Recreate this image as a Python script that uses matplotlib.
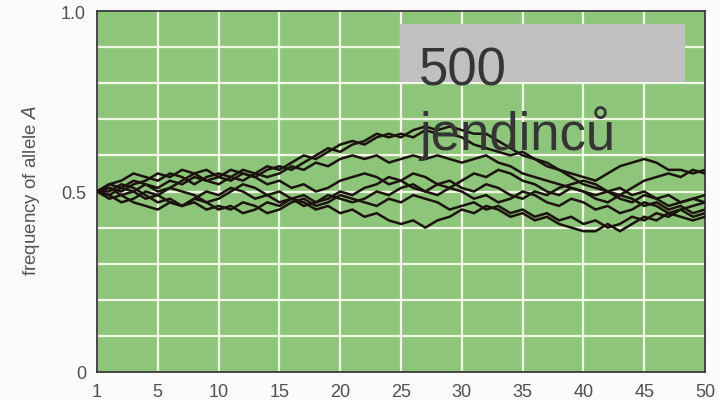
import numpy as np
import matplotlib
matplotlib.use("Agg")
import matplotlib.pyplot as plt
from matplotlib.patches import Rectangle

# Generations (tick at 0 is labelled "1")
generation = np.arange(0, 51)
xtick_pos = [0, 5, 10, 15, 20, 25, 30, 35, 40, 45, 50]
xtick_labels = ["1", "5", "10", "15", "20", "25", "30", "35", "40", "45", "50"]
ytick_pos = [0, 0.5, 1.0]
ytick_labels = ["0", "0.5", "1.0"]

# Frequency of allele A in eight populations of 500 individuals
pop1 = [0.50, 0.52, 0.53, 0.55, 0.54, 0.53, 0.55, 0.54, 0.52, 0.54, 0.55,
        0.54, 0.56, 0.55, 0.57, 0.56, 0.58, 0.60, 0.59, 0.61, 0.63,
        0.64, 0.63, 0.65, 0.66, 0.65, 0.67, 0.68, 0.67, 0.68, 0.67,
        0.66, 0.66, 0.64, 0.62, 0.60, 0.59, 0.57, 0.56, 0.55, 0.54,
        0.53, 0.55, 0.57, 0.58, 0.59, 0.58, 0.56, 0.56, 0.55, 0.56]
pop2 = [0.50, 0.51, 0.50, 0.52, 0.53, 0.55, 0.54, 0.56, 0.55, 0.53, 0.54,
        0.56, 0.55, 0.54, 0.56, 0.57, 0.56, 0.58, 0.60, 0.62, 0.61,
        0.63, 0.64, 0.66, 0.65, 0.66, 0.65, 0.67, 0.66, 0.66, 0.65,
        0.63, 0.62, 0.61, 0.60, 0.61, 0.59, 0.58, 0.56, 0.54, 0.52,
        0.51, 0.50, 0.49, 0.51, 0.53, 0.54, 0.55, 0.54, 0.56, 0.55]
pop3 = [0.50, 0.49, 0.51, 0.50, 0.52, 0.51, 0.53, 0.52, 0.54, 0.53, 0.52,
        0.54, 0.53, 0.55, 0.54, 0.55, 0.57, 0.56, 0.58, 0.57, 0.59,
        0.60, 0.59, 0.60, 0.58, 0.59, 0.60, 0.59, 0.60, 0.59, 0.58,
        0.59, 0.60, 0.58, 0.57, 0.55, 0.54, 0.53, 0.52, 0.51, 0.50,
        0.49, 0.50, 0.48, 0.47, 0.49, 0.48, 0.46, 0.47, 0.48, 0.47]
pop4 = [0.50, 0.52, 0.51, 0.53, 0.52, 0.50, 0.51, 0.53, 0.55, 0.56, 0.54,
        0.53, 0.55, 0.54, 0.52, 0.53, 0.51, 0.52, 0.50, 0.51, 0.53,
        0.54, 0.55, 0.54, 0.52, 0.53, 0.51, 0.50, 0.52, 0.51, 0.53,
        0.55, 0.54, 0.56, 0.55, 0.53, 0.52, 0.50, 0.49, 0.51, 0.50,
        0.48, 0.47, 0.49, 0.48, 0.46, 0.47, 0.45, 0.46, 0.44, 0.45]
pop5 = [0.50, 0.49, 0.47, 0.48, 0.50, 0.49, 0.47, 0.46, 0.48, 0.50, 0.49,
        0.51, 0.50, 0.48, 0.49, 0.47, 0.48, 0.46, 0.47, 0.49, 0.48,
        0.47, 0.48, 0.50, 0.49, 0.51, 0.52, 0.50, 0.49, 0.51, 0.50,
        0.48, 0.49, 0.47, 0.48, 0.50, 0.49, 0.47, 0.46, 0.48, 0.47,
        0.45, 0.46, 0.44, 0.45, 0.47, 0.46, 0.44, 0.45, 0.43, 0.44]
pop6 = [0.50, 0.48, 0.49, 0.47, 0.46, 0.45, 0.47, 0.46, 0.48, 0.47, 0.45,
        0.46, 0.44, 0.45, 0.47, 0.46, 0.48, 0.47, 0.45, 0.46, 0.44,
        0.45, 0.43, 0.44, 0.42, 0.41, 0.42, 0.40, 0.42, 0.43, 0.45,
        0.44, 0.46, 0.45, 0.43, 0.44, 0.42, 0.43, 0.41, 0.40, 0.39,
        0.39, 0.41, 0.39, 0.41, 0.43, 0.42, 0.44, 0.43, 0.42, 0.43]
pop7 = [0.50, 0.51, 0.49, 0.50, 0.48, 0.49, 0.51, 0.50, 0.49, 0.47, 0.48,
        0.50, 0.52, 0.51, 0.49, 0.50, 0.48, 0.49, 0.47, 0.48, 0.50,
        0.49, 0.51, 0.52, 0.54, 0.53, 0.55, 0.54, 0.52, 0.53, 0.51,
        0.50, 0.52, 0.51, 0.49, 0.48, 0.50, 0.49, 0.51, 0.52, 0.53,
        0.52, 0.50, 0.51, 0.49, 0.50, 0.48, 0.49, 0.47, 0.48, 0.49]
pop8 = [0.50, 0.50, 0.52, 0.51, 0.49, 0.47, 0.48, 0.46, 0.47, 0.45, 0.46,
        0.45, 0.47, 0.46, 0.44, 0.45, 0.47, 0.48, 0.46, 0.47, 0.49,
        0.48, 0.47, 0.46, 0.48, 0.47, 0.49, 0.48, 0.47, 0.45, 0.46,
        0.47, 0.45, 0.46, 0.44, 0.45, 0.43, 0.44, 0.42, 0.43, 0.41,
        0.42, 0.40, 0.41, 0.43, 0.42, 0.44, 0.43, 0.45, 0.46, 0.47]
populations = [pop1, pop2, pop3, pop4, pop5, pop6, pop7, pop8]

W, H = 719, 402
fig = plt.figure(figsize=(W / 100, H / 100), dpi=100)
fig.patch.set_facecolor("#fbfbfb")

left, right, top, bottom = 97, 705, 12, 373
ax = fig.add_axes([left / W, 1 - bottom / H, (right - left) / W, (bottom - top) / H])
ax.set_facecolor("#8dc67b")
ax.set_xlim(0, 50)
ax.set_ylim(0, 1)

# white grid: every 5 generations and every 0.1 of frequency
grid_kw = dict(color="#f3f5e6", linewidth=1.6, zorder=1)
for gx in range(5, 50, 5):
    ax.axvline(gx, **grid_kw)
for gy in np.arange(0.1, 1.0, 0.1):
    ax.axhline(gy, **grid_kw)

for pop in populations:
    ax.plot(generation, pop, color="#1c130f", linewidth=1.8, zorder=3,
            solid_joinstyle="miter")

ax.set_xticks(xtick_pos)
ax.set_xticklabels(xtick_labels)
ax.set_yticks(ytick_pos)
ax.set_yticklabels(ytick_labels)
ax.tick_params(which="both", length=0, labelsize=13, colors="#505050")
ax.tick_params(axis="x", pad=8)
ax.tick_params(axis="y", pad=8)
for lab in ax.get_xticklabels() + ax.get_yticklabels():
    lab.set_fontfamily("Liberation Sans")

for s in ax.spines.values():
    s.set_color("#3a3a3a")
    s.set_linewidth(1.3)

fig.text(31 / W, 1 - 191 / H, "frequency of allele $A$", rotation=90,
         ha="center", va="center", fontsize=13.5, color="#555555",
         family="Liberation Sans")

# label box
fig.patches.append(Rectangle((400 / W, 1 - 83 / H), 285 / W, 58 / H,
                             transform=fig.transFigure, facecolor="#c0c0c0",
                             edgecolor="none", zorder=5))
fig.text(419 / W, 1 - 86 / H, "500", fontsize=38, color="#353535",
         family="Liberation Sans", va="baseline", ha="left", zorder=6)
fig.text(419 / W, 1 - 150 / H, "jendinců", fontsize=38, color="#353535",
         family="Liberation Sans", va="baseline", ha="left", zorder=6)

fig.savefig("out.png", dpi=100, facecolor=fig.get_facecolor())
